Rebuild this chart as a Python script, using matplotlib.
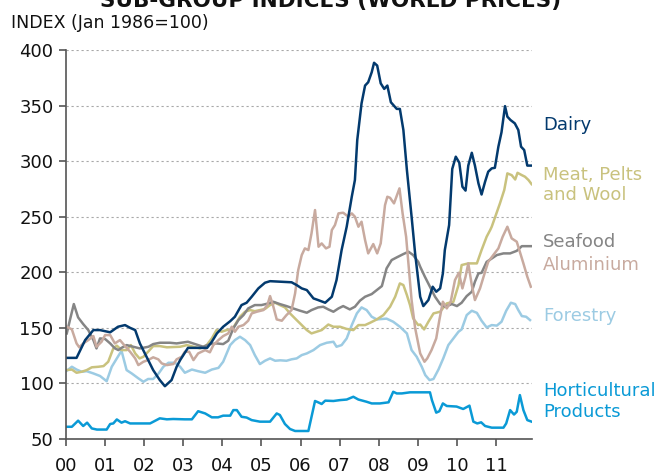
import matplotlib
matplotlib.use('Agg')
import matplotlib.pyplot as plt

# data, time in years since Jan 2000
dairy_t = [0.02, 0.27, 0.49, 0.70, 0.87, 1.13, 1.33, 1.51, 1.64, 1.77, 1.89, 2.06, 2.23, 2.40, 2.53,
           2.70, 2.83, 2.92, 3.12, 3.61, 3.73, 3.86, 4.02, 4.20, 4.32, 4.49, 4.62, 4.75, 4.92, 5.09,
           5.22, 5.77, 5.90, 6.03, 6.16, 6.33, 6.45, 6.63, 6.80, 6.92, 7.05, 7.18, 7.31, 7.39, 7.45,
           7.56, 7.65, 7.73, 7.82, 7.88, 7.96, 8.05, 8.14, 8.22, 8.31, 8.46, 8.54, 8.63, 8.72, 8.84,
           8.93, 9.06, 9.14, 9.27, 9.38, 9.47, 9.57, 9.64, 9.69, 9.80, 9.88, 9.97, 10.06, 10.14, 10.22,
           10.29, 10.38, 10.46, 10.55, 10.63, 10.72, 10.80, 10.89, 10.97, 11.06, 11.14, 11.23, 11.29,
           11.37, 11.48, 11.57, 11.64, 11.72, 11.80, 11.91]
dairy_v = [123, 123, 139, 148, 148, 146, 151, 152.5, 150, 148, 136, 124, 112, 103, 97.5,
           103, 115, 121, 132, 132, 137.5, 145, 151, 156, 160, 170.5, 172.6, 178, 185.5, 190.6,
           192, 191, 188.5, 185.5, 184, 176.5, 175, 172.6, 178, 193, 220, 241, 268, 283, 319,
           352, 368, 371, 380, 388.5, 386, 370, 365, 368, 353, 347, 347, 328, 292, 250,
           217, 178, 169.6, 175, 187, 182.5, 185.5, 199, 220, 242.5, 293, 304, 298.6, 277, 273.5,
           296, 307.5, 296, 280, 270, 281.5, 290.5, 293.5, 294, 313, 326, 349.5, 340,
           337, 334, 328, 313, 310, 296, 296]

meat_t = [0.02, 0.15, 0.27, 0.40, 0.53, 0.66, 0.83, 0.96, 1.08, 1.21, 1.30, 1.42, 1.55, 1.66, 1.77,
          1.88, 1.98, 2.10, 2.23, 2.40, 2.58, 2.92, 3.04, 3.09, 3.26, 3.43, 3.60, 3.73, 3.85, 3.98,
          4.11, 4.24, 4.32, 4.45, 4.58, 4.71, 4.83, 4.96, 5.09, 5.22, 5.35, 5.47, 5.60, 5.73, 5.90,
          6.03, 6.16, 6.28, 6.41, 6.54, 6.71, 6.84, 7.01, 7.18, 7.35, 7.48, 7.65, 7.78, 7.95, 8.12,
          8.29, 8.42, 8.54, 8.63, 8.72, 8.80, 8.88, 9.01, 9.06, 9.16, 9.27, 9.40, 9.57, 9.74, 9.91,
          10.04, 10.12, 10.29, 10.51, 10.63, 10.76, 10.85, 10.89, 11.10, 11.21, 11.29, 11.40, 11.49,
          11.55, 11.66, 11.74, 11.83, 11.91]
meat_v = [112, 112.5, 109.6, 110.5, 112, 114.5, 115, 115.6, 119.5, 131.5, 134, 130, 130, 134.5, 127,
          122.5, 124, 128.5, 133.6, 133.6, 132.5, 133, 134, 134.5, 133, 131.5, 134.5, 140.5, 148, 146.5,
          148, 148.6, 152.5, 160, 164.5, 166, 165, 166, 167, 170.5, 172.6, 170.5, 168.4, 163, 157,
          152.5, 148, 145, 146.5, 148, 153, 151, 151, 149, 148, 152.5, 152.5, 154.6, 157.6, 161.5,
          169, 178, 190, 188.5, 179.5, 170.5, 158.5, 152.5, 153, 148.6, 155.5, 163, 164.5, 172, 173.5,
          188.5, 206.5, 208, 208, 220, 232, 238, 241, 262, 274, 289, 287.4, 283.5,
          289.5, 287.4, 286, 283, 279.3]

seafood_t = [0.02, 0.10, 0.20, 0.31, 0.44, 0.57, 0.70, 0.78, 0.87, 1.00, 1.13, 1.25, 1.34, 1.42, 1.55,
             1.72, 1.89, 2.11, 2.23, 2.40, 2.66, 2.83, 3.12, 3.25, 3.51, 3.68, 3.85, 4.02, 4.15, 4.28,
             4.41, 4.54, 4.66, 4.83, 5.00, 5.18, 5.30, 5.47, 5.64, 5.81, 5.98, 6.16, 6.28, 6.45, 6.58,
             6.71, 6.84, 6.97, 7.09, 7.26, 7.39, 7.52, 7.65, 7.82, 7.95, 8.08, 8.20, 8.33, 8.46, 8.63,
             8.76, 8.88, 9.01, 9.06, 9.18, 9.31, 9.44, 9.57, 9.70, 9.87, 10.00, 10.12, 10.25, 10.38,
             10.46, 10.55, 10.63, 10.76, 10.89, 11.02, 11.19, 11.36, 11.53, 11.66, 11.91]
seafood_v = [145, 157, 171.4, 159.4, 153.4, 148, 139, 131.5, 140.5, 140, 136, 131.6, 130, 132, 134.5,
             133, 131.5, 133, 135.4, 136.6, 136.6, 136, 137.5, 136, 133, 135.4, 136, 135.4, 138.4, 149.5,
             157, 161.5, 167.5, 170.5, 170.5, 172, 173.5, 171.4, 169.6, 167.5, 165.5, 163.6, 166, 168.4, 169,
             166.6, 164.5, 167.5, 169.6, 166.6, 169, 174.5, 178, 180.4, 184, 187.6, 203.5, 211, 213.4, 216.4,
             218.5, 215.5, 209.4, 205, 196, 187, 178, 171.4, 169, 171.4, 169.6, 172.6, 178.6, 182.5,
             191.5, 199, 199.5, 209.4, 212.4, 215.5, 217, 217, 219.3, 223.5, 223.5]

alum_t = [0.02, 0.15, 0.27, 0.34, 0.44, 0.57, 0.70, 0.78, 0.91, 1.00, 1.13, 1.25, 1.38, 1.51, 1.64,
          1.77, 1.85, 1.98, 2.10, 2.23, 2.36, 2.45, 2.58, 2.75, 2.83, 2.96, 3.04, 3.15, 3.26, 3.38,
          3.56, 3.68, 3.77, 3.90, 4.02, 4.15, 4.24, 4.32, 4.41, 4.54, 4.66, 4.75, 4.88, 5.05, 5.15,
          5.22, 5.30, 5.39, 5.52, 5.64, 5.77, 5.86, 5.94, 6.03, 6.11, 6.20, 6.28, 6.37, 6.46, 6.54,
          6.65, 6.74, 6.80, 6.88, 6.97, 7.09, 7.22, 7.31, 7.39, 7.48, 7.56, 7.65, 7.73, 7.86, 7.96,
          8.05, 8.16, 8.22, 8.29, 8.39, 8.53, 8.61, 8.70, 8.84, 8.93, 9.06, 9.17, 9.24, 9.35, 9.47,
          9.55, 9.64, 9.74, 9.84, 9.95, 10.05, 10.14, 10.22, 10.29, 10.38, 10.46, 10.59, 10.72, 10.80,
          10.93, 11.06, 11.17, 11.29, 11.40, 11.53, 11.70, 11.80, 11.89]
alum_v = [151, 148.6, 136, 132.5, 136, 139, 142.6, 133, 137.5, 143.5, 143.5, 136, 139, 133.6, 128.5,
          122.5, 116.5, 119.5, 121, 123.5, 121.7, 118, 116.5, 117.5, 121.7, 124, 128.5, 128.5, 121, 127,
          130, 128, 134.5, 139, 142.6, 145, 151, 146.5, 151, 152.5, 156.4, 163, 164.5, 166, 170.5,
          178.6, 169.6, 157.6, 156.4, 161.5, 166, 181, 202, 215.5, 221.5, 220, 235, 256, 223, 226,
          221.5, 223, 238, 242.5, 253, 253.6, 250, 253, 250, 241, 245.5, 229, 217, 225.4, 217,
          226, 260.4, 268, 267, 262, 275.5, 253, 232, 175, 150, 127, 119.5, 122.5, 130, 140.5,
          157, 173.5, 167.5, 173.5, 193, 199.6, 185.5, 196, 208, 188.5, 175, 185.5, 200.5, 209.4,
          215.5, 221.5, 232, 241, 230.5, 227.5, 208, 196, 187]

forest_t = [0.02, 0.15, 0.27, 0.40, 0.53, 0.70, 0.87, 1.04, 1.17, 1.30, 1.42, 1.55, 1.68, 1.85, 1.98,
            2.10, 2.23, 2.36, 2.49, 2.62, 2.79, 2.92, 3.04, 3.22, 3.38, 3.56, 3.73, 3.90, 4.02, 4.20,
            4.32, 4.45, 4.58, 4.71, 4.83, 4.96, 5.09, 5.22, 5.35, 5.48, 5.64, 5.77, 5.90, 6.03, 6.16,
            6.33, 6.50, 6.67, 6.84, 6.92, 7.05, 7.18, 7.31, 7.44, 7.56, 7.69, 7.82, 7.95, 8.20, 8.37,
            8.54, 8.72, 8.84, 8.97, 9.10, 9.19, 9.30, 9.40, 9.53, 9.65, 9.78, 9.91, 10.04, 10.12, 10.25,
            10.38, 10.51, 10.63, 10.76, 10.89, 11.02, 11.14, 11.26, 11.38, 11.49, 11.57, 11.66, 11.77, 11.87]
forest_v = [111.4, 115, 112.5, 110.5, 111, 109, 106.7, 102, 115, 122.5, 129.4, 112, 109, 104.6, 101.5,
            104, 104, 108.5, 115, 118.6, 118.6, 115, 109.6, 112.5, 111, 109.6, 112.5, 114, 119.5, 134.5,
            139, 142, 139, 134.5, 125.5, 117.4, 120.4, 122.5, 120.4, 120.8, 120.4, 121.7, 122.5, 125.5, 127,
            130, 134.5, 136.6, 137.5, 133, 134.5, 140.5, 152.5, 163, 168.4, 166, 160, 157.6, 158.3, 155.5,
            151, 145, 130, 124, 115, 107.5, 103, 104, 112.7, 122.5, 134.5, 140.5, 146.5, 148.6, 161.5,
            165.4, 163.5, 156.4, 150.4, 152.5, 152, 155.5, 165.4, 172.6, 171.4, 166, 160.6, 160, 157]

hort_t = [0.02, 0.15, 0.31, 0.44, 0.54, 0.66, 0.79, 1.04, 1.13, 1.21, 1.30, 1.42, 1.51, 1.64, 2.15,
          2.40, 2.58, 2.74, 3.04, 3.22, 3.38, 3.56, 3.73, 3.89, 4.02, 4.20, 4.28, 4.37, 4.49, 4.62,
          4.75, 4.96, 5.22, 5.39, 5.47, 5.60, 5.73, 5.86, 6.20, 6.37, 6.45, 6.54, 6.63, 6.84, 7.01,
          7.18, 7.35, 7.48, 7.69, 7.82, 8.03, 8.25, 8.37, 8.46, 8.59, 8.80, 9.31, 9.36, 9.47, 9.55,
          9.64, 9.74, 9.99, 10.16, 10.32, 10.42, 10.52, 10.62, 10.72, 10.89, 11.19, 11.26, 11.36, 11.46,
          11.53, 11.61, 11.70, 11.80, 11.91]
hort_v = [61, 61, 66.5, 61.7, 64.7, 59.5, 58.5, 58.5, 63.5, 64, 67.6, 64.7, 66, 64, 64,
          68.6, 67.7, 68, 67.7, 67.7, 75, 73, 69.5, 69.5, 71, 71, 76, 76, 70, 69.3,
          67, 65.6, 65.6, 73, 71.6, 63.5, 59, 57.2, 57.2, 84.2, 83, 81.5, 84.5, 84.2, 85,
          85.5, 88, 85.5, 83.5, 82, 82, 83, 92.5, 91, 91, 92, 92, 85, 73.7, 75,
          82, 79.7, 79.2, 77, 80, 65.6, 64, 65, 61.7, 60.2, 60.2, 64, 76, 72,
          74.5, 89.5, 76, 67, 65.6]

year_labels = ['00', '01', '02', '03', '04', '05', '06', '07', '08', '09', '10', '11']

# colours
c_dairy = '#033a6e'
c_meat = '#c9c27e'
c_seafood = '#858585'
c_alum = '#c8aa9f'
c_forest = '#9ccbe3'
c_hort = '#0a9ad6'

fig = plt.figure(figsize=(6.58, 4.75), dpi=100)
ax = fig.add_axes([66 / 658, 1 - 439 / 475, 466 / 658, 389 / 475])

lw = 1.8
ax.plot(hort_t, hort_v, color=c_hort, lw=lw)
ax.plot(forest_t, forest_v, color=c_forest, lw=lw)
ax.plot(meat_t, meat_v, color=c_meat, lw=lw)
ax.plot(seafood_t, seafood_v, color=c_seafood, lw=lw)
ax.plot(alum_t, alum_v, color=c_alum, lw=lw)
ax.plot(dairy_t, dairy_v, color=c_dairy, lw=lw)

ax.set_xlim(0, 11.92)
ax.set_ylim(50, 400)
ax.set_xticks(range(12))
ax.set_xticklabels(year_labels)
ax.set_yticks(range(50, 401, 50))

ax.grid(axis='y', color='#a8a8a8', linestyle=(0, (2, 2.5)), linewidth=0.8)
ax.set_axisbelow(True)
for s in ['top', 'right']:
    ax.spines[s].set_visible(False)
for s in ['left', 'bottom']:
    ax.spines[s].set_color('#555555')
    ax.spines[s].set_linewidth(1.2)
ax.tick_params(axis='both', colors='#555555', labelcolor='#111111', labelsize=13,
               length=5, width=1.2, direction='out')
ax.tick_params(axis='y', pad=4)
ax.tick_params(axis='x', pad=8)

# series labels on the right
lx = 12.2
lf = 13
ax.text(lx, 328, 'Dairy', color=c_dairy, fontsize=lf, clip_on=False)
ax.text(lx, 283, 'Meat, Pelts', color=c_meat, fontsize=lf, clip_on=False)
ax.text(lx, 265, 'and Wool', color=c_meat, fontsize=lf, clip_on=False)
ax.text(lx, 222.7, 'Seafood', color=c_seafood, fontsize=lf, clip_on=False)
ax.text(lx, 202.4, 'Aluminium', color=c_alum, fontsize=lf, clip_on=False)
ax.text(lx, 156, 'Forestry', color=c_forest, fontsize=lf, clip_on=False)
ax.text(lx, 88.7, 'Horticultural', color=c_hort, fontsize=lf, clip_on=False)
ax.text(lx, 70, 'Products', color=c_hort, fontsize=lf, clip_on=False)

fig.text(331 / 658, 1 - 6.5 / 475, 'SUB-GROUP INDICES (WORLD PRICES)', ha='center', va='baseline',
         fontsize=15.5, fontweight='bold', color='#111111')
fig.text(11 / 658, 1 - 28 / 475, 'INDEX (Jan 1986=100)', ha='left', va='baseline',
         fontsize=12.5, color='#111111')

fig.savefig('out.png', dpi=100)
